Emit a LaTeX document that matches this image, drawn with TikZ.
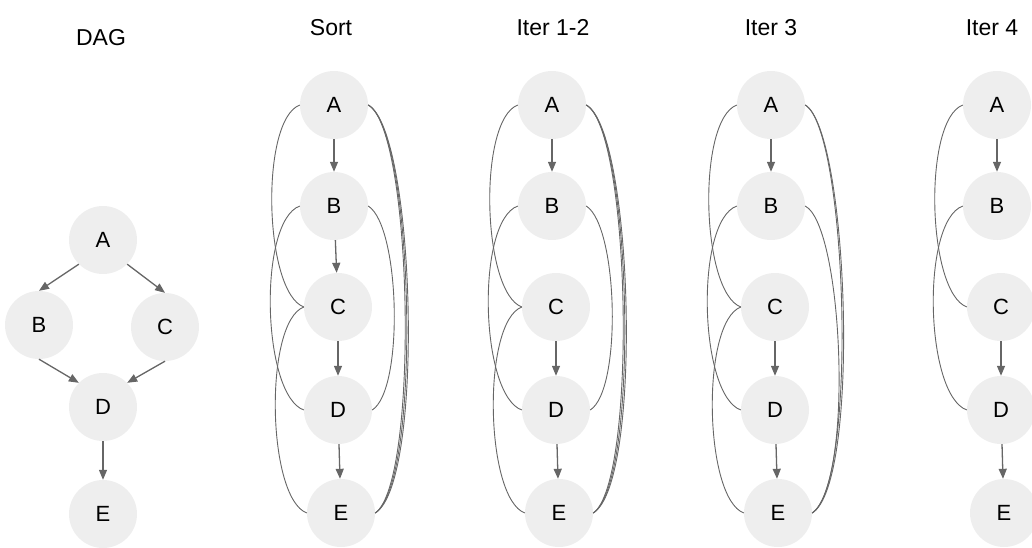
\documentclass[tikz,border=0pt]{standalone}
\usepackage{fontspec}
\setmainfont{Liberation Sans}
\usetikzlibrary{arrows.meta}
\definecolor{nodegray}{HTML}{EEEEEE}
\definecolor{edgegray}{HTML}{666666}
\begin{document}
\begin{tikzpicture}[x=1pt,y=-1pt,
 vtx/.style={circle,fill=nodegray,minimum size=68pt,inner sep=0pt,font=\fontsize{22}{26}\selectfont},
 ttl/.style={font=\fontsize{23}{27}\selectfont},
 arr/.style={draw=edgegray,line width=1.3pt,-{Triangle[length=10pt,width=8pt]}},
 crv/.style={draw=edgegray,line width=0.9pt},
]
\useasboundingbox (0,0) rectangle (1032,548);
\clip (0,0) rectangle (1032,548);

% titles
\node[ttl] (tD) at (101,38) {DAG};
\node[ttl] (tS) at (331,28) {Sort};
\node[ttl] (tP) at (553,28) {Iter 1-2};
\node[ttl] (tQ) at (771,28) {Iter 3};
\node[ttl] (tR) at (992,28) {Iter 4};

% DAG
\node[vtx] (dA) at (103,240) {A};
\node[vtx] (dB) at (39,325) {B};
\node[vtx] (dC) at (165,327) {C};
\node[vtx] (dD) at (103,407) {D};
\node[vtx] (dE) at (103,514) {E};
\draw[arr] (dA.225) -- (dB.north);
\draw[arr] (dA.315) -- (dC.north);
\draw[arr] (dB.south) -- (dD.135);
\draw[arr] (dC.south) -- (dD.45);
\draw[arr] (dD) -- (dE);

% Sort
\node[vtx] (sA) at (334,105) {A};
\node[vtx] (sB) at (334,206) {B};
\node[vtx] (sC) at (338,307) {C};
\node[vtx] (sD) at (338,410) {D};
\node[vtx] (sE) at (341,513) {E};
\draw[arr] (sA) -- (sB);
\draw[arr] (sB) -- (sC);
\draw[arr] (sC) -- (sD);
\draw[arr] (sD) -- (sE);
\draw[crv] (sA.west) .. controls +(-40,15) and +(-40,-15) .. (sC.west);
\draw[crv] (sB.west) .. controls +(-42,15) and +(-42,-15) .. (sD.west);
\draw[crv] (sC.west) .. controls +(-40,15) and +(-40,-15) .. (sE.west);
\draw[crv] (sB.east) .. controls +(32,20) and +(32,-20) .. (sD.east);
\draw[crv] (sA.east) .. controls +(45,25) and +(44,-30) .. (sE.east);
\draw[crv] (sA.east) .. controls +(46,25) and +(47,-30) .. (sE.east);
\draw[crv] (sA.east) .. controls +(47,25) and +(50,-30) .. (sE.east);

% Iter 1-2
\node[vtx] (pA) at (552,105) {A};
\node[vtx] (pB) at (552,206) {B};
\node[vtx] (pC) at (556,307) {C};
\node[vtx] (pD) at (556,410) {D};
\node[vtx] (pE) at (559,513) {E};
\draw[arr] (pA) -- (pB);
\draw[arr] (pC) -- (pD);
\draw[arr] (pD) -- (pE);
\draw[crv] (pA.west) .. controls +(-40,15) and +(-40,-15) .. (pC.west);
\draw[crv] (pB.west) .. controls +(-42,15) and +(-42,-15) .. (pD.west);
\draw[crv] (pC.west) .. controls +(-40,15) and +(-40,-15) .. (pE.west);
\draw[crv] (pB.east) .. controls +(32,20) and +(32,-20) .. (pD.east);
\draw[crv] (pA.east) .. controls +(45,25) and +(44,-30) .. (pE.east);
\draw[crv] (pA.east) .. controls +(46,25) and +(47,-30) .. (pE.east);
\draw[crv] (pA.east) .. controls +(47,25) and +(50,-30) .. (pE.east);

% Iter 3
\node[vtx] (qA) at (771,105) {A};
\node[vtx] (qB) at (771,206) {B};
\node[vtx] (qC) at (775,307) {C};
\node[vtx] (qD) at (775,410) {D};
\node[vtx] (qE) at (778,513) {E};
\draw[arr] (qA) -- (qB);
\draw[arr] (qC) -- (qD);
\draw[arr] (qD) -- (qE);
\draw[crv] (qA.west) .. controls +(-40,15) and +(-40,-15) .. (qC.west);
\draw[crv] (qB.west) .. controls +(-42,15) and +(-42,-15) .. (qD.west);
\draw[crv] (qC.west) .. controls +(-40,15) and +(-40,-15) .. (qE.west);
\draw[crv] (qA.east) .. controls +(42,25) and +(46,-30) .. (qE.east);
\draw[crv] (qA.east) .. controls +(43,25) and +(49,-30) .. (qE.east);
\draw[crv] (qB.east) .. controls +(38,20) and +(42,-30) .. (qE.east);

% Iter 4
\node[vtx] (rA) at (997,105) {A};
\node[vtx] (rB) at (997,206) {B};
\node[vtx] (rC) at (1001,307) {C};
\node[vtx] (rD) at (1001,410) {D};
\node[vtx] (rE) at (1004,513) {E};
\draw[arr] (rA) -- (rB);
\draw[arr] (rC) -- (rD);
\draw[arr] (rD) -- (rE);
\draw[crv] (rA.west) .. controls +(-40,15) and +(-40,-15) .. (rC.west);
\draw[crv] (rB.west) .. controls +(-42,15) and +(-42,-15) .. (rD.west);
\end{tikzpicture}
\end{document}
